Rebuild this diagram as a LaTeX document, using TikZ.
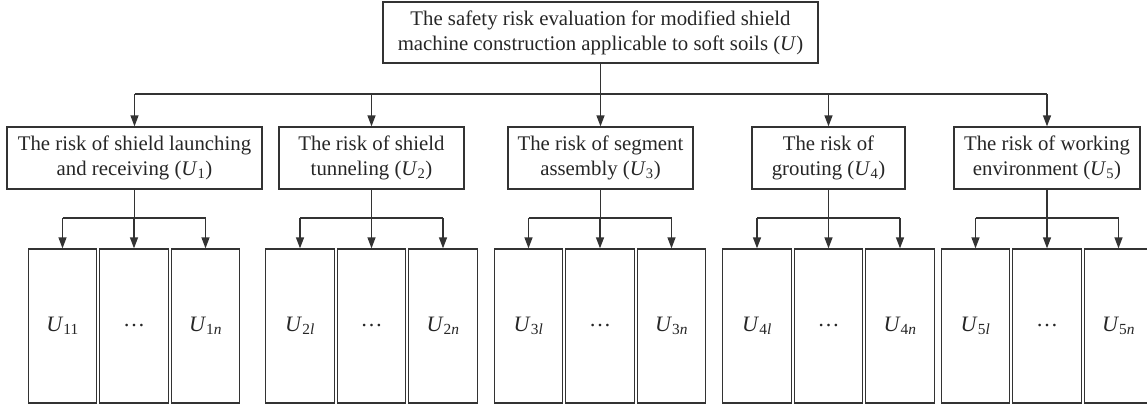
\documentclass[tikz,border=0pt]{standalone}
\usepackage{fontspec}
\setmainfont{Liberation Serif}
\usetikzlibrary{arrows.meta}
\newcommand\Usub[1]{\textit{U}\textsubscript{#1}}
\begin{document}
\begin{tikzpicture}[x=1pt,y=-1pt,
  line width=1.3pt, draw=black!80,
  box/.style={draw=black!80, line width=1.3pt, align=center, inner sep=0pt,
    font=\fontsize{20.8}{25}\selectfont, text=black!85},
  midbox/.style={box, minimum height=62pt},
  leaf/.style={box, minimum width=68.5pt, minimum height=154pt, font=\fontsize{22}{26}\selectfont},
  wire/.style={draw=black!80, line width=1.3pt},
  arr/.style={wire, -{Triangle[length=11pt,width=8pt]}}]
\clip (0,0) rectangle (1147,407);
\node[box, minimum width=435pt, minimum height=61pt] (top) at (600.5,32.5)
  {The safety risk evaluation for modified shield\\machine construction applicable to soft soils (\textit{U})};
\node[midbox, minimum width=255pt] (m1) at (134.5,158) {The risk of shield launching\\and receiving (\Usub{1})};
\node[midbox, minimum width=185pt] (m2) at (371.5,158) {The risk of shield\\tunneling (\Usub{2})};
\node[midbox, minimum width=185pt] (m3) at (600.5,158) {The risk of segment\\assembly (\Usub{3})};
\node[midbox, minimum width=153pt] (m4) at (828.5,158) {The risk of\\grouting (\Usub{4})};
\node[midbox, minimum width=186pt] (m5) at (1047,158) {The risk of working\\environment (\Usub{5})};
\coordinate (bus) at (0,94);
\coordinate (lbus) at (0,218);
\draw[wire] (top.south) -- (top.south|-bus);
\draw[wire] (m1.north|-bus) -- (m5.north|-bus);
\foreach \i in {1,...,5}{
  \draw[arr] (m\i.north|-bus) -- (m\i.north);
}
% leaves
\foreach \g/\cx/\a/\b in {1/134/\Usub{11}/\Usub{1\textit{n}},
                          2/371.5/\Usub{2\textit{l}}/\Usub{2\textit{n}},
                          3/600/\Usub{3\textit{l}}/\Usub{3\textit{n}},
                          4/828.5/\Usub{4\textit{l}}/\Usub{4\textit{n}},
                          5/1047/\Usub{5\textit{l}}/\Usub{5\textit{n}}}{
  \node[leaf] (l\g a) at (\cx-71.5,326) {\a};
  \node[leaf] (l\g b) at (\cx,326) {\dots};
  \node[leaf] (l\g c) at (\cx+71.5,326) {\b};
  \draw[wire] (m\g.south) -- (m\g.south|-lbus);
  \draw[wire] (l\g a.north|-lbus) -- (l\g c.north|-lbus);
  \foreach \k in {a,b,c}{
    \draw[arr] (l\g\k.north|-lbus) -- (l\g\k.north);
  }
}
\end{tikzpicture}
\end{document}
